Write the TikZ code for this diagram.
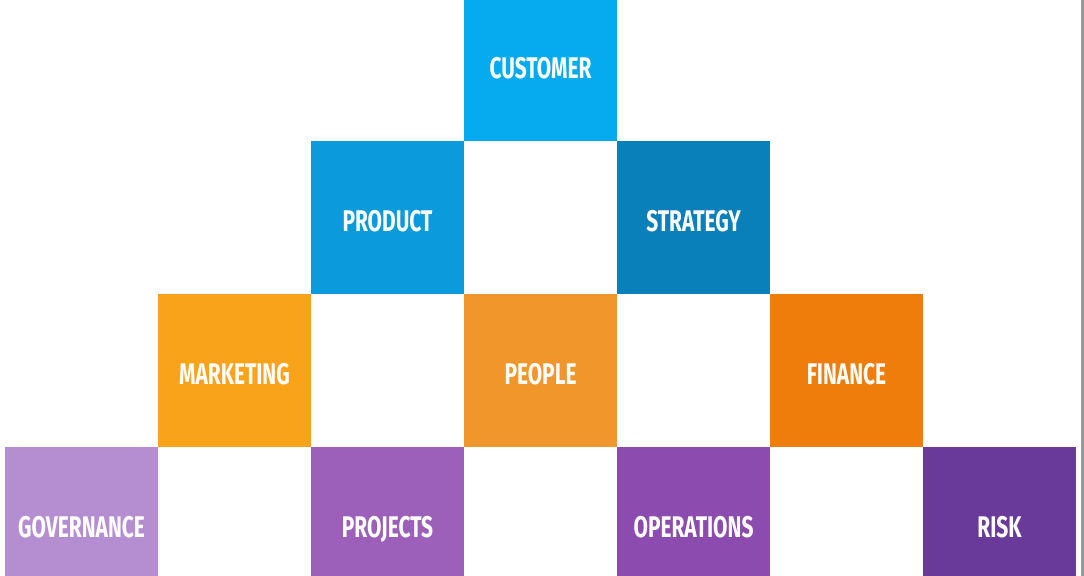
\documentclass[tikz,border=0pt]{standalone}
\usepackage{fontspec}
\setsansfont[FakeStretch=0.7]{Fira Sans}
\definecolor{custblue}{HTML}{05AAEF}
\definecolor{prodblue}{HTML}{0B9BDC}
\definecolor{stratblue}{HTML}{0A80BB}
\definecolor{mktorange}{HTML}{F9A31B}
\definecolor{pplorange}{HTML}{F0962A}
\definecolor{finorange}{HTML}{EE7D0B}
\definecolor{govpurple}{HTML}{B48ED0}
\definecolor{projpurple}{HTML}{9C60BA}
\definecolor{opspurple}{HTML}{8C4BAE}
\definecolor{riskpurple}{HTML}{6A3A9B}
\tikzset{
  block/.style={minimum size=3.06cm,inner sep=0pt,text=white,
    text height=0.56cm,text depth=0pt,
    font=\sffamily\bfseries\fontsize{17}{20}\selectfont}
}
\begin{document}
\begin{tikzpicture}
\def\w{3.06}
\def\x{1.63}
\def\y{-1.29}
\useasboundingbox (0,0) rectangle (21.68,-11.52);
\clip (0,0) rectangle (21.68,-11.52);
\fill[gray!80] (21.62,0) rectangle (21.68,-11.52);
\coordinate (cu) at ({\x+3*\w},{\y});
\coordinate (pd) at ({\x+2*\w},{\y-\w});
\coordinate (st) at ({\x+4*\w},{\y-\w});
\coordinate (mk) at ({\x+1*\w},{\y-2*\w});
\coordinate (pp) at ({\x+3*\w},{\y-2*\w});
\coordinate (fi) at ({\x+5*\w},{\y-2*\w});
\coordinate (gv) at ({\x},{\y-3*\w});
\coordinate (pj) at ({\x+2*\w},{\y-3*\w});
\coordinate (op) at ({\x+4*\w},{\y-3*\w});
\coordinate (rk) at ({\x+6*\w},{\y-3*\w});
\node[block,fill=custblue] (customer) at (cu) {CUSTOMER};
\node[block,fill=prodblue] (product) at (pd) {PRODUCT};
\node[block,fill=stratblue] (strategy) at (st) {STRATEGY};
\node[block,fill=mktorange] (marketing) at (mk) {MARKETING};
\node[block,fill=pplorange] (people) at (pp) {PEOPLE};
\node[block,fill=finorange] (finance) at (fi) {FINANCE};
\node[block,fill=govpurple] (governance) at (gv) {GOVERNANCE};
\node[block,fill=projpurple] (projects) at (pj) {PROJECTS};
\node[block,fill=opspurple] (operations) at (op) {OPERATIONS};
\node[block,fill=riskpurple] (risk) at (rk) {RISK};
\end{tikzpicture}
\end{document}
